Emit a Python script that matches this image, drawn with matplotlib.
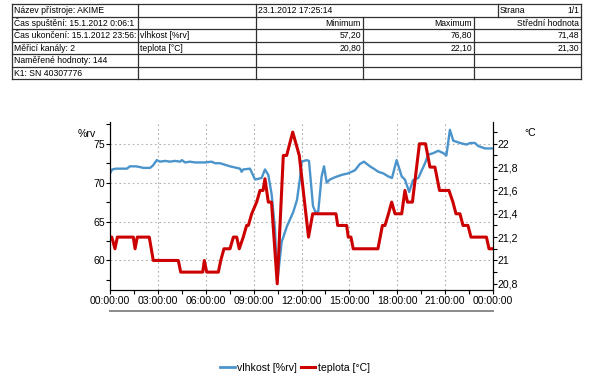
import matplotlib
matplotlib.use("Agg")
import matplotlib.pyplot as plt
from matplotlib import font_manager
from matplotlib.lines import Line2D

# ---- data ----
# relative humidity [%rv]: (hour, value) vertices
rh_hours = [0.03, 0.14, 0.38, 1.05, 1.25, 1.63, 1.88, 2.09, 2.51, 2.69, 2.93, 3.13, 3.45,
            3.76, 4.07, 4.39, 4.51, 4.70, 5.01, 5.33, 5.64, 5.95, 6.37, 6.58, 6.89, 7.21,
            7.52, 7.94, 8.15, 8.25, 8.35, 8.77, 9.09, 9.50, 9.71, 9.92, 10.13, 10.34, 10.48,
            10.76, 11.09, 11.48, 11.72, 11.90, 12.01, 12.32, 12.47, 12.72, 12.88, 13.05,
            13.26, 13.41, 13.58, 13.78, 14.10, 14.52, 14.93, 15.35, 15.66, 15.91, 16.10,
            16.29, 16.60, 16.81, 17.12, 17.44, 17.67, 17.96, 18.28, 18.48, 18.75, 18.98,
            19.32, 19.74, 19.94, 20.26, 20.57, 20.88, 21.08, 21.30, 21.51, 21.93, 22.35,
            22.56, 22.87, 23.08, 23.50, 23.92]
rh_values = [71.3, 71.7, 71.8, 71.8, 72.1, 72.1, 72.0, 71.9, 71.9, 72.2, 72.9, 72.7, 72.8,
             72.7, 72.8, 72.7, 72.9, 72.6, 72.7, 72.6, 72.6, 72.6, 72.7, 72.5, 72.5, 72.3,
             72.1, 71.9, 71.8, 71.4, 71.7, 71.8, 70.4, 70.6, 71.7, 71.0, 68.5, 64.0, 57.2,
             62.4, 64.4, 66.2, 67.8, 70.5, 72.7, 72.9, 72.8, 67.0, 66.2, 66.3,
             70.8, 72.1, 70.0, 70.4, 70.7, 71.0, 71.2, 71.6, 72.4, 72.7, 72.4,
             72.1, 71.7, 71.4, 71.2, 70.8, 70.6, 72.9, 70.8, 70.4, 68.8, 70.3,
             70.6, 72.5, 73.6, 73.8, 74.1, 73.8, 73.5, 76.8, 75.4, 75.1, 74.9,
             75.1, 75.1, 74.7, 74.4, 74.4]

# temperature [degC]: (hour, value) vertices
t_hours = [0.03, 0.11, 0.31, 0.46, 1.46, 1.57, 1.71, 2.46, 2.71, 4.28, 4.43, 5.81, 5.91,
           6.06, 6.79, 6.94, 7.14, 7.52, 7.73, 7.94, 8.10, 8.35, 8.56, 8.67, 8.88, 9.19,
           9.40, 9.59, 9.71, 9.92, 10.12, 10.48, 10.86, 11.07, 11.45, 11.86, 12.44, 12.70,
           14.16, 14.27, 14.83, 14.93, 15.10, 15.24, 16.79, 17.07, 17.23, 17.45, 17.65,
           17.86, 18.28, 18.48, 18.64, 18.95, 19.39, 19.77, 20.05, 20.36, 20.65, 21.24,
           21.49, 21.68, 21.93, 22.12, 22.43, 22.62, 23.59, 23.75, 23.93]
t_values = [21.2, 21.2, 21.1, 21.2, 21.2, 21.1, 21.2, 21.2, 21.0, 21.0, 20.9, 20.9, 21.0,
            20.9, 20.9, 21.0, 21.1, 21.1, 21.2, 21.2, 21.1, 21.2, 21.3, 21.3, 21.4, 21.5,
            21.6, 21.6, 21.7, 21.5, 21.5, 20.8, 21.9, 21.9, 22.1, 21.9, 21.2, 21.4,
            21.4, 21.3, 21.3, 21.2, 21.2, 21.1, 21.1, 21.3, 21.3, 21.4, 21.5,
            21.4, 21.4, 21.6, 21.5, 21.5, 22.0, 22.0, 21.8, 21.8, 21.6, 21.6,
            21.5, 21.4, 21.4, 21.3, 21.3, 21.2, 21.2, 21.1, 21.1]

x_ticks = [0, 3, 6, 9, 12, 15, 18, 21, 24]
x_labels = ["00:00:00", "03:00:00", "06:00:00", "09:00:00", "12:00:00",
            "15:00:00", "18:00:00", "21:00:00", "00:00:00"]
rh_ticks = [60, 65, 70, 75]
t_ticks = [20.8, 21.0, 21.2, 21.4, 21.6, 21.8, 22.0]
t_labels = ["20,8", "21", "21,2", "21,4", "21,6", "21,8", "22"]

# header table
table_rows = [
    ["Název přístroje: AKIME", "", "23.1.2012 17:25:14", "Strana", "1/1"],
    ["Čas spuštění: 15.1.2012 0:06:1", "", "Minimum", "Maximum", "Střední hodnota"],
    ["Čas ukončení: 15.1.2012 23:56:", "vlhkost [%rv]", "57,20", "76,80", "71,48"],
    ["Měřicí kanály: 2", "teplota [°C]", "20,80", "22,10", "21,30"],
    ["Naměřené hodnoty: 144", "", "", "", ""],
    ["K1: SN 40307776", "", "", "", ""],
]

BLUE = "#4b94cb"
RED = "#cc0000"

names = {f.name for f in font_manager.fontManager.ttflist}
if "Liberation Sans Narrow" in names:
    FONT = ["Liberation Sans Narrow", "DejaVu Sans"]
    fs_tick, fs_tab = 9, 7.4
else:
    FONT = ["Liberation Sans", "DejaVu Sans"]
    fs_tick, fs_tab = 7.6, 6.2
plt.rcParams["font.family"] = FONT

W, H = 589, 384
fig = plt.figure(figsize=(W / 100, H / 100), dpi=100)

# ---- chart ----
left, right, top, bottom = 110, 493, 122, 290
ax = fig.add_axes([left / W, 1 - bottom / H, (right - left) / W, (bottom - top) / H])
ax2 = ax.twinx()

rh_lim = (56.2, 77.8)
ax.set_ylim(*rh_lim)
ax2.set_ylim(21 + (rh_lim[0] - 60) / 15, 21 + (rh_lim[1] - 60) / 15)
ax.set_xlim(0, 24)

ax.plot(rh_hours, rh_values, color=BLUE, lw=1.7, solid_joinstyle="round")
ax2.plot(t_hours, t_values, color=RED, lw=2.2, solid_joinstyle="round")

ax.set_xticks(x_ticks)
ax.set_xticklabels(x_labels)
ax.set_xticks([x + 1.5 for x in x_ticks[:-1]], minor=True)
ax.set_yticks(rh_ticks)
ax.set_yticks([57.5, 62.5, 67.5, 72.5, 77.5], minor=True)
ax2.set_yticks(t_ticks)
ax2.set_yticklabels(t_labels)
ax2.set_yticks([20.9, 21.1, 21.3, 21.5, 21.7, 21.9, 22.1], minor=True)

for a in (ax, ax2):
    a.tick_params(which="both", direction="out", length=3, width=0.8, pad=0.5,
                  labelsize=fs_tick, colors="black")
    a.spines["top"].set_visible(False)
    for s in ("left", "right", "bottom"):
        a.spines[s].set_linewidth(0.8)
ax.tick_params(axis="x", pad=1.5)

ax.grid(True, which="major", color="#b0b0b0", linestyle=(0, (1.5, 2.5)), linewidth=0.8)
ax.set_axisbelow(True)

fig.text(96 / W, 1 - 134 / H, "%rv", ha="right", va="center", fontsize=fs_tick)
fig.text(524 / W, 1 - 133 / H, "°C", ha="left", va="center", fontsize=fs_tick)

handles = [Line2D([], [], color=BLUE, lw=2), Line2D([], [], color=RED, lw=2.2)]
fig.legend(handles, ["vlhkost [%rv]", "teplota [°C]"], loc="center",
           bbox_to_anchor=(295 / W, 1 - 368 / H), ncol=2, frameon=False,
           fontsize=fs_tick, handlelength=1.4, handletextpad=0.25, columnspacing=0.3)

# ---- page overlay: separator and table ----
pg = fig.add_axes([0, 0, 1, 1], zorder=-1)
pg.set_xlim(0, W)
pg.set_ylim(H, 0)
pg.axis("off")

pg.plot([110, 493], [311, 311], color="#8a8a8a", lw=1.4)

row_y = [4.3, 16.7, 29.3, 41.7, 54.3, 66.7, 79.3]
col_x = [12, 138, 256, 363, 474, 581]
line_kw = dict(color="#303030", lw=0.9)
for y in row_y:
    pg.plot([col_x[0], col_x[-1]], [y, y], **line_kw)
for x in (12, 138, 256, 581):
    pg.plot([x, x], [row_y[0], row_y[-1]], **line_kw)
for x in (363, 474):
    pg.plot([x, x], [row_y[1], row_y[-1]], **line_kw)
pg.plot([498, 498], [row_y[0], row_y[1]], **line_kw)

for i, row in enumerate(table_rows):
    yc = (row_y[i] + row_y[i + 1]) / 2 + 0.3
    kw = dict(va="center", fontsize=fs_tab)
    pg.text(col_x[0] + 2, yc, row[0], ha="left", **kw)
    pg.text(col_x[1] + 2, yc, row[1], ha="left", **kw)
    if i == 0:
        pg.text(col_x[2] + 2, yc, row[2], ha="left", **kw)
        pg.text(500, yc, row[3], ha="left", **kw)
        pg.text(col_x[5] - 2, yc, row[4], ha="right", **kw)
    else:
        pg.text(col_x[3] - 2, yc, row[2], ha="right", **kw)
        pg.text(col_x[4] - 2, yc, row[3], ha="right", **kw)
        pg.text(col_x[5] - 2, yc, row[4], ha="right", **kw)

fig.savefig("out.png", dpi=100)
